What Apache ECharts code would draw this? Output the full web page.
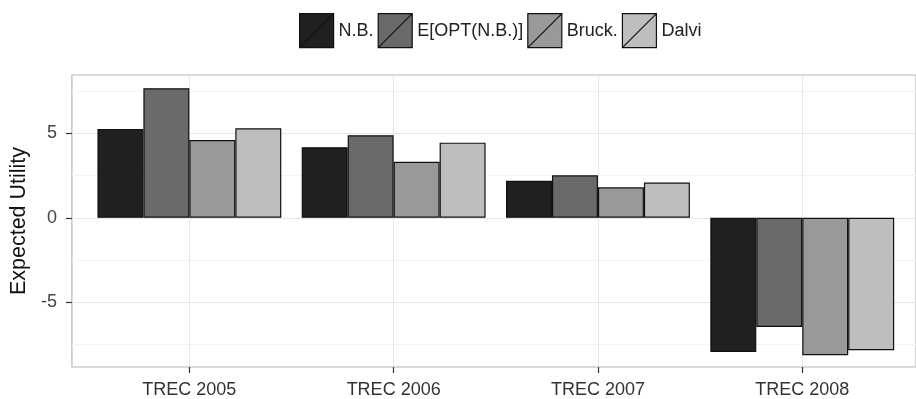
<!DOCTYPE html>
<html>
<head>
<meta charset="utf-8">
<script src="https://cdn.jsdelivr.net/npm/echarts@6/dist/echarts.min.js"></script>
<style>
html,body{margin:0;padding:0;background:#fff;}
#chart{width:916px;height:399px;}
</style>
</head>
<body>
<div id="chart"></div>
<script>
var categories = ['TREC 2005', 'TREC 2006', 'TREC 2007', 'TREC 2008'];
var seriesNames = ['N.B.', 'E[OPT(N.B.)]', 'Bruck.', 'Dalvi'];
var nbValues = [5.25, 4.17, 2.19, -7.93];
var eoptValues = [7.66, 4.88, 2.51, -6.45];
var bruckValues = [4.6, 3.31, 1.8, -8.12];
var dalviValues = [5.29, 4.44, 2.09, -7.83];
var yMajorTicks = [-5, 0, 5];
var yMinorTicks = [-7.5, -2.5, 2.5, 7.5];
var yMin = -8.82, yMax = 8.44;

var colors = ['#202020', '#6a6a6a', '#999999', '#bebebe'];
var allValues = [nbValues, eoptValues, bruckValues, dalviValues];
var FONT = 'Liberation Sans, Arial, sans-serif';

var chart = echarts.init(document.getElementById('chart'), null, {renderer: 'canvas'});

var series = seriesNames.map(function (name, i) {
  return {
    name: name,
    type: 'bar',
    xAxisIndex: 1,
    yAxisIndex: 1,
    data: allValues[i],
    barGap: '0%',
    barCategoryGap: '10%',
    itemStyle: {color: colors[i], borderColor: '#111', borderWidth: 1.2},
    emphasis: {disabled: true},
    animation: false
  };
});

var option = {
  animation: false,
  legend: {
    data: seriesNames,
    left: 299,
    top: 13,
    padding: 0,
    itemWidth: 34,
    itemHeight: 34,
    itemGap: 4,
    icon: 'path://M0,0 L34,0 L34,34 L0,34 Z M0,34 L34,0',
    itemStyle: {borderColor: '#111', borderWidth: 1.2},
    textStyle: {fontFamily: FONT, fontSize: 18, color: '#222', padding: [0, 0, 0, 0]},
    selectedMode: false
  },
  grid: [
    {left: 67, top: 75, width: 858, height: 292, show: true, borderColor: '#b8b8b8', borderWidth: 1.2, backgroundColor: '#fff'},
    {left: 87.2, top: 75, width: 817.2, height: 292, show: false}
  ],
  xAxis: [
    {type: 'value', gridIndex: 0, min: 0, max: 1, show: false},
    {
      type: 'category', gridIndex: 1, data: categories, position: 'bottom',
      axisLine: {show: false, onZero: false},
      axisTick: {show: true, alignWithLabel: true, length: 6, lineStyle: {color: '#333', width: 1.2}},
      axisLabel: {fontFamily: FONT, fontSize: 18, color: '#333', margin: 14},
      splitLine: {show: true, alignWithLabel: true, lineStyle: {color: '#e8e8e8', width: 1}}
    }
  ],
  yAxis: [
    {
      type: 'value', gridIndex: 0, min: yMin, max: yMax,
      name: 'Expected Utility', nameLocation: 'middle', nameGap: 36,
      nameTextStyle: {fontFamily: FONT, fontSize: 21.5, color: '#111'},
      axisLine: {show: false},
      axisTick: {show: true, length: 6, customValues: yMajorTicks, lineStyle: {color: '#333', width: 1.2}},
      axisLabel: {fontFamily: FONT, fontSize: 18, color: '#444', margin: 15, customValues: yMajorTicks},
      splitLine: {show: true, lineStyle: {color: '#e6e6e6', width: 1}}
    },
    {type: 'value', gridIndex: 1, min: yMin, max: yMax, show: false},
    {
      type: 'value', gridIndex: 0, min: yMin, max: yMax, position: 'left',
      axisLine: {show: false},
      axisTick: {show: false, customValues: yMinorTicks},
      axisLabel: {show: false},
      splitLine: {show: true, lineStyle: {color: '#f4f4f4', width: 1}}
    }
  ],
  series: series
};
chart.setOption(option);
</script>
</body>
</html>
